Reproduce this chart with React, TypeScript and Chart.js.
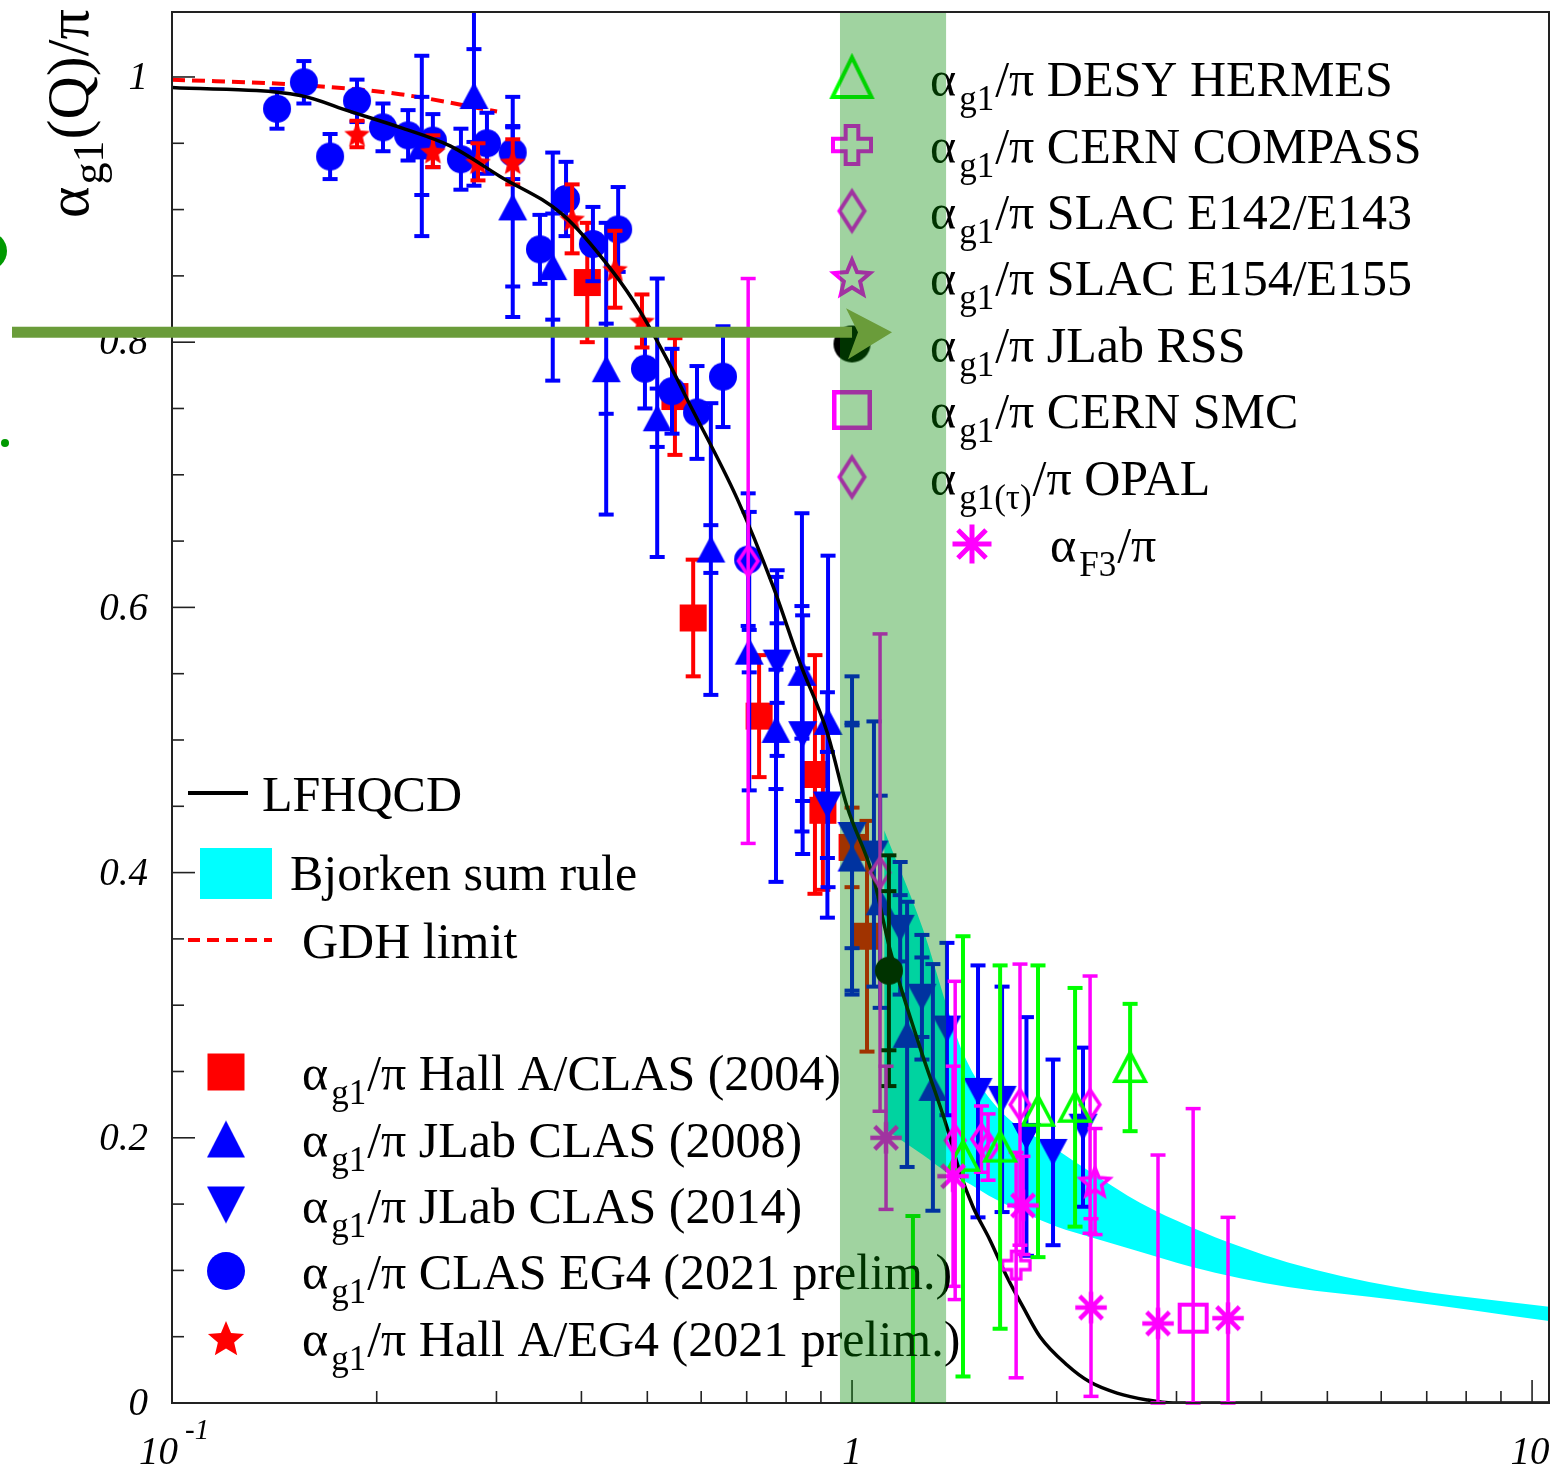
import React, { useEffect, useRef } from 'react';
import { Chart, registerables } from 'chart.js';

Chart.register(...registerables);

const WIDTH = 1561;
const HEIGHT = 1467;
const SERIF = '"Liberation Serif", "DejaVu Serif", serif';

// Axis ranges
const Q_MIN = 0.1;
const Q_MAX = 10.59;
const A_MIN = 0;
const A_MAX = 1.049;

// Axis ticks
const yMajorTicks = [0, 0.2, 0.4, 0.6, 0.8, 1];
const yTickLabels = ['0', '0.2', '0.4', '0.6', '0.8', '1'];
const yMinorStep = 0.05;
const xMajorTicks = [0.1, 1, 10];
const xMinorMultipliers = [2, 3, 4, 5, 6, 7, 8, 9];

// LFHQCD prediction
const lfhqcdQ = [0.1, 0.1543, 0.1827, 0.2164, 0.2564, 0.3037, 0.3758, 0.4451, 0.4881, 0.5345, 0.5721, 0.6777, 0.7652, 0.8386, 0.9189, 0.983, 1.074, 1.137, 1.259, 1.379, 1.441, 1.506, 1.595, 1.69, 1.784, 1.89, 2.071, 2.239, 2.453, 2.716, 2.966, 10.59];
const lfhqcdV = [0.992, 0.986, 0.974, 0.962, 0.948, 0.925, 0.896, 0.853, 0.823, 0.787, 0.757, 0.682, 0.616, 0.558, 0.506, 0.45, 0.397, 0.342, 0.268, 0.208, 0.174, 0.148, 0.123, 0.095, 0.0725, 0.05, 0.0287, 0.0158, 0.0075, 0.0023, 0.0, 0.0];

// GDH limit
const gdhQ = [0.1, 0.1543, 0.2164, 0.3006];
const gdhV = [0.998, 0.994, 0.987, 0.974];

// Bjorken sum rule band
const bjorkenQ = [1.115, 1.272, 1.379, 1.456, 1.634, 2.002, 2.246, 2.651, 3.142, 3.721, 4.377, 6.31, 10.59];
const bjorkenUpper = [0.432, 0.357, 0.299, 0.264, 0.223, 0.191, 0.174, 0.151, 0.133, 0.118, 0.106, 0.0875, 0.0725];
const bjorkenLower = [0.207, 0.187, 0.174, 0.168, 0.153, 0.133, 0.125, 0.114, 0.103, 0.094, 0.0875, 0.0777, 0.0619];

// Hall A / CLAS (2004)
const hallA2004Q = [0.408, 0.549, 0.584, 0.73, 0.882, 0.906, 1.0, 1.052];
const hallA2004V = [0.845, 0.759, 0.592, 0.518, 0.474, 0.447, 0.419, 0.352];
const hallA2004Err = [0.045, 0.044, 0.044, 0.046, 0.09, 0.06, 0.03, 0.087];

// JLab CLAS (2008)
const clas2008Q = [0.233, 0.278, 0.317, 0.363, 0.435, 0.517, 0.62, 0.706, 0.773, 0.844, 0.922, 1.0, 1.1, 1.205, 1.315];
const clas2008V = [0.948, 0.986, 0.902, 0.857, 0.78, 0.743, 0.644, 0.567, 0.508, 0.551, 0.514, 0.411, 0.378, 0.278, 0.238];
const clas2008Err = [0.068, 0.068, 0.083, 0.086, 0.11, 0.105, 0.11, 0.105, 0.115, 0.12, 0.125, 0.1, 0.08, 0.1, 0.093];
const clas2008Stat = [0.037, 0.035, 0.06, 0.04, 0.034, 0.022, 0.018, 0.016, 0.045, 0.05, 0, 0, 0, 0, 0];

// JLab CLAS (2014)
const clas2014Q = [0.776, 0.846, 0.92, 1.0, 1.077, 1.177, 1.267, 1.379, 1.532, 1.662, 1.805, 1.975, 2.186];
const clas2014V = [0.558, 0.504, 0.451, 0.428, 0.414, 0.358, 0.306, 0.282, 0.235, 0.229, 0.201, 0.189, 0.208];
const clas2014Err = [0.07, 0.09, 0.085, 0.12, 0.1, 0.05, 0.047, 0.065, 0.095, 0.085, 0.09, 0.07, 0.06];
const clas2014Stat = [0.03, 0.05, 0.04, 0.085, 0, 0.025, 0.03, 0, 0, 0, 0, 0, 0];

// CLAS EG4 (2021 prelim.)
const eg4Q = [0.1427, 0.1563, 0.1708, 0.1871, 0.2043, 0.2224, 0.2419, 0.266, 0.2905, 0.317, 0.3476, 0.3797, 0.4159, 0.453, 0.496, 0.5436, 0.5916, 0.646, 0.7035];
const eg4V = [0.976, 0.996, 0.94, 0.982, 0.962, 0.956, 0.952, 0.938, 0.95, 0.943, 0.87, 0.908, 0.874, 0.885, 0.78, 0.763, 0.747, 0.774, 0.636];
const eg4Err = [0.015, 0.016, 0.017, 0.016, 0.018, 0.019, 0.02, 0.023, 0.023, 0.02, 0.026, 0.028, 0.028, 0.032, 0.03, 0.032, 0.035, 0.038, 0.05];

// Hall A / EG4 (2021 prelim.)
const hallAEg4Q = [0.1871, 0.2419, 0.2818, 0.317, 0.3876, 0.4481, 0.491];
const hallAEg4V = [0.957, 0.944, 0.936, 0.936, 0.893, 0.855, 0.816];
const hallAEg4Err = [0.01, 0.012, 0.014, 0.017, 0.026, 0.029, 0.02];

// SLAC E142/E143
const slac143Q = [0.7035, 1.0995, 1.418, 1.55, 1.585, 2.239];
const slac143V = [0.635, 0.4, 0.198, 0.199, 0.193, 0.225];
const slac143Err = [0.213, 0.18, 0.12, 0.025, 0.025, 0.097];

// SLAC E154/E155
const slac155Q = [2.277];
const slac155V = [0.167];
const slac155Err = [0.04];

// CERN COMPASS
const compassQ = [1.743];
const compassV = [0.104];
const compassErr = [0.085];

// DESY HERMES
const hermesQ = [1.229, 1.456, 1.651, 1.877, 2.128, 2.564];
const hermesV = [-0.04, 0.186, 0.193, 0.22, 0.223, 0.253];
const hermesErr = [0.181, 0.166, 0.137, 0.11, 0.09, 0.048];

// JLab RSS
const rssQ = [1.133];
const rssV = [0.326];
const rssErr = [0.087];
const rssStat = [0.06];

// CERN SMC
const smcQ = [3.174];
const smcV = [0.064];
const smcErrUp = [0.158];
const smcErrDn = [0.064];

// OPAL (tau decays)
const opalQ = [1.766];
const opalV = [0.225];
const opalErr = [0.106];

// alpha_F3 from GLS sum rule
const f3Q = [1.122, 1.408, 1.784, 2.246, 2.818, 3.572];
const f3V = [0.2, 0.171, 0.149, 0.072, 0.06, 0.064];
const f3ErrUp = [0.054, 0.083, 0.037, 0.067, 0.127, 0.076];
const f3ErrDn = [0.054, 0.083, 0.037, 0.067, 0.06, 0.064];

// Highlight band and arrow
const highlightQ = [0.96, 1.375];
const arrowLevel = 0.8075;
const arrowTipQ = 1.145;

// Legend texts
const rightLegendSubs = ['g1', 'g1', 'g1', 'g1', 'g1', 'g1', 'g1(τ)', 'F3'];
const rightLegendTexts = ['/π DESY HERMES', '/π CERN COMPASS', '/π SLAC E142/E143', '/π SLAC E154/E155', '/π JLab RSS', '/π CERN SMC', '/π OPAL', '/π'];
const leftLegendTexts = ['/π Hall A/CLAS (2004)', '/π JLab CLAS (2008)', '/π JLab CLAS (2014)', '/π CLAS EG4 (2021 prelim.)', '/π Hall A/EG4 (2021 prelim.)'];
const curveLegendTexts = ['LFHQCD', 'Bjorken sum rule', 'GDH limit'];
const yTitleParts = ['α', 'g1', '(Q)/π'];

const BLUE = '#0000ff';
const RED = '#ff0000';
const MAGENTA = '#ff00ff';
const GREEN = '#00ff00';
const BLACK = '#000000';
const CYAN = '#00ffff';

type Kind = 'circle' | 'square' | 'triUp' | 'triDown' | 'star' | 'openStar' | 'openTri' | 'openDiamond' | 'openCross' | 'openSquare' | 'asterisk';

function starPath(g: CanvasRenderingContext2D, cx: number, cy: number, R: number, ratio: number) {
  for (let i = 0; i < 10; i++) {
    const ang = -Math.PI / 2 + (i * Math.PI) / 5;
    const r = i % 2 === 0 ? R : R * ratio;
    const px = cx + r * Math.cos(ang);
    const py = cy + r * Math.sin(ang);
    if (i === 0) g.moveTo(px, py);
    else g.lineTo(px, py);
  }
  g.closePath();
}

function makeMarker(kind: Kind, w: number, h: number, color: string, lw = 3.5): HTMLCanvasElement {
  const pad = Math.ceil(lw) + 2;
  const c = document.createElement('canvas');
  c.width = Math.ceil(w + 2 * pad);
  c.height = Math.ceil(h + 2 * pad);
  const g = c.getContext('2d') as CanvasRenderingContext2D;
  const cx = c.width / 2;
  const cy = c.height / 2;
  const rx = w / 2;
  const ry = h / 2;
  const ix = rx - lw / 2;
  const iy = ry - lw / 2;
  g.fillStyle = color;
  g.strokeStyle = color;
  g.lineWidth = lw;
  g.lineJoin = 'miter';
  g.beginPath();
  switch (kind) {
    case 'circle':
      g.ellipse(cx, cy, rx, ry, 0, 0, Math.PI * 2);
      g.fill();
      break;
    case 'square':
      g.rect(cx - rx, cy - ry, w, h);
      g.fill();
      break;
    case 'openSquare':
      g.rect(cx - ix, cy - iy, 2 * ix, 2 * iy);
      g.stroke();
      break;
    case 'triUp':
      g.moveTo(cx, cy - ry);
      g.lineTo(cx + rx, cy + ry);
      g.lineTo(cx - rx, cy + ry);
      g.closePath();
      g.fill();
      break;
    case 'triDown':
      g.moveTo(cx, cy + ry);
      g.lineTo(cx + rx, cy - ry);
      g.lineTo(cx - rx, cy - ry);
      g.closePath();
      g.fill();
      break;
    case 'openTri':
      g.moveTo(cx, cy - iy - lw * 0.4);
      g.lineTo(cx + ix, cy + iy);
      g.lineTo(cx - ix, cy + iy);
      g.closePath();
      g.stroke();
      break;
    case 'openDiamond':
      g.moveTo(cx, cy - iy);
      g.lineTo(cx + ix, cy);
      g.lineTo(cx, cy + iy);
      g.lineTo(cx - ix, cy);
      g.closePath();
      g.stroke();
      break;
    case 'star':
      starPath(g, cx, cy + ry * 0.1, ry, 0.45);
      g.fill();
      break;
    case 'openStar':
      starPath(g, cx, cy + iy * 0.1, iy, 0.45);
      g.stroke();
      break;
    case 'openCross': {
      const t = ix / 3;
      g.moveTo(cx - t, cy - iy);
      g.lineTo(cx + t, cy - iy);
      g.lineTo(cx + t, cy - t);
      g.lineTo(cx + ix, cy - t);
      g.lineTo(cx + ix, cy + t);
      g.lineTo(cx + t, cy + t);
      g.lineTo(cx + t, cy + iy);
      g.lineTo(cx - t, cy + iy);
      g.lineTo(cx - t, cy + t);
      g.lineTo(cx - ix, cy + t);
      g.lineTo(cx - ix, cy - t);
      g.lineTo(cx - t, cy - t);
      g.closePath();
      g.stroke();
      break;
    }
    case 'asterisk': {
      const d = ix * 0.72;
      g.moveTo(cx, cy - iy);
      g.lineTo(cx, cy + iy);
      g.moveTo(cx - ix, cy);
      g.lineTo(cx + ix, cy);
      g.moveTo(cx - d, cy - d);
      g.lineTo(cx + d, cy + d);
      g.moveTo(cx + d, cy - d);
      g.lineTo(cx - d, cy + d);
      g.stroke();
      break;
    }
  }
  return c;
}

function pts(q: number[], v: number[]) {
  return q.map((x, i) => ({ x, y: v[i] }));
}

interface SeriesDef {
  q: number[];
  v: number[];
  up: number[];
  dn: number[];
  stat?: number[];
  kind: Kind;
  w: number;
  h: number;
  color: string;
  lw?: number;
  barColor: string;
  barWidth: number;
}

function drawAlphaLabel(ctx: CanvasRenderingContext2D, x: number, base: number, sub: string, rest: string, main = 50, subSize = 35) {
  ctx.textAlign = 'left';
  ctx.textBaseline = 'alphabetic';
  ctx.font = `${main}px ${SERIF}`;
  ctx.fillText('α', x, base);
  let cx = x + ctx.measureText('α').width + 3;
  ctx.font = `${subSize}px ${SERIF}`;
  ctx.fillText(sub, cx, base + 14);
  cx += ctx.measureText(sub).width + 1;
  ctx.font = `${main}px ${SERIF}`;
  ctx.fillText(rest, cx, base);
}

export default function App() {
  const ref = useRef<HTMLCanvasElement>(null);

  useEffect(() => {
    const canvas = ref.current;
    if (!canvas) return;

    const series: SeriesDef[] = [
      { q: hallA2004Q, v: hallA2004V, up: hallA2004Err, dn: hallA2004Err, kind: 'square', w: 27, h: 27, color: RED, barColor: RED, barWidth: 4 },
      { q: clas2008Q, v: clas2008V, up: clas2008Err, dn: clas2008Err, stat: clas2008Stat, kind: 'triUp', w: 29, h: 27, color: BLUE, barColor: BLUE, barWidth: 4 },
      { q: clas2014Q, v: clas2014V, up: clas2014Err, dn: clas2014Err, stat: clas2014Stat, kind: 'triDown', w: 29, h: 27, color: BLUE, barColor: BLUE, barWidth: 4 },
      { q: eg4Q, v: eg4V, up: eg4Err, dn: eg4Err, kind: 'circle', w: 28, h: 28, color: BLUE, barColor: BLUE, barWidth: 4 },
      { q: hallAEg4Q, v: hallAEg4V, up: hallAEg4Err, dn: hallAEg4Err, kind: 'star', w: 27, h: 27, color: RED, barColor: RED, barWidth: 4 },
    ];
    const overSeries: SeriesDef[] = [
      { q: slac143Q, v: slac143V, up: slac143Err, dn: slac143Err, kind: 'openDiamond', w: 23, h: 33, color: MAGENTA, lw: 3.5, barColor: MAGENTA, barWidth: 3.5 },
      { q: slac155Q, v: slac155V, up: slac155Err, dn: slac155Err, kind: 'openStar', w: 34, h: 34, color: MAGENTA, lw: 3.5, barColor: MAGENTA, barWidth: 3.5 },
      { q: compassQ, v: compassV, up: compassErr, dn: compassErr, kind: 'openCross', w: 31, h: 31, color: MAGENTA, lw: 3.5, barColor: MAGENTA, barWidth: 3.5 },
      { q: hermesQ, v: hermesV, up: hermesErr, dn: hermesErr, kind: 'openTri', w: 34, h: 31, color: GREEN, lw: 3.5, barColor: GREEN, barWidth: 4 },
      { q: rssQ, v: rssV, up: rssErr, dn: rssErr, stat: rssStat, kind: 'circle', w: 28, h: 28, color: BLACK, barColor: BLACK, barWidth: 4 },
      { q: smcQ, v: smcV, up: smcErrUp, dn: smcErrDn, kind: 'openSquare', w: 31, h: 31, color: MAGENTA, lw: 4, barColor: MAGENTA, barWidth: 3.5 },
      { q: opalQ, v: opalV, up: opalErr, dn: opalErr, kind: 'openDiamond', w: 23, h: 33, color: MAGENTA, lw: 3.5, barColor: MAGENTA, barWidth: 3.5 },
      { q: f3Q, v: f3V, up: f3ErrUp, dn: f3ErrDn, kind: 'asterisk', w: 36, h: 36, color: MAGENTA, lw: 4.5, barColor: MAGENTA, barWidth: 3.5 },
    ];

    const seriesDataset = (s: SeriesDef) => ({
      data: pts(s.q, s.v),
      showLine: false,
      pointStyle: makeMarker(s.kind, s.w, s.h, s.color, s.lw ?? 3.5),
      pointRadius: 10,
      pointHoverRadius: 10,
      borderColor: s.color,
      backgroundColor: s.color,
      errUp: s.up,
      errDn: s.dn,
      errStat: s.stat,
      barColor: s.barColor,
      barWidth: s.barWidth,
    });

    // listed bottom to top
    const datasets: any[] = [
      {
        data: pts(bjorkenQ, bjorkenUpper),
        borderWidth: 0,
        borderColor: 'rgba(0,0,0,0)',
        backgroundColor: CYAN,
        pointRadius: 0,
        fill: '+1',
        cubicInterpolationMode: 'monotone',
      },
      {
        data: pts(bjorkenQ, bjorkenLower),
        borderWidth: 0,
        borderColor: 'rgba(0,0,0,0)',
        pointRadius: 0,
        fill: false,
        cubicInterpolationMode: 'monotone',
      },
      {
        data: pts(gdhQ, gdhV),
        borderColor: RED,
        borderWidth: 4,
        borderDash: [13, 7],
        pointRadius: 0,
        fill: false,
        cubicInterpolationMode: 'monotone',
      },
      ...series.map(seriesDataset),
      {
        data: pts(lfhqcdQ, lfhqcdV),
        borderColor: BLACK,
        borderWidth: 3.5,
        pointRadius: 0,
        fill: false,
        cubicInterpolationMode: 'monotone',
      },
      ...overSeries.map(seriesDataset),
    ];
    const n = datasets.length;
    datasets.forEach((d, i) => {
      d.order = n - i;
    });

    const leftMarkers = [
      makeMarker('square', 37, 37, RED),
      makeMarker('triUp', 38, 37, BLUE),
      makeMarker('triDown', 38, 37, BLUE),
      makeMarker('circle', 38, 38, BLUE),
      makeMarker('star', 38, 38, RED),
    ];
    const rightMarkers = [
      makeMarker('openTri', 43, 42, GREEN, 4),
      makeMarker('openCross', 42, 42, MAGENTA, 4),
      makeMarker('openDiamond', 29, 43, MAGENTA, 4),
      makeMarker('openStar', 42, 42, MAGENTA, 4),
      makeMarker('circle', 37, 37, BLACK),
      makeMarker('openSquare', 40, 40, MAGENTA, 4.5),
      makeMarker('openDiamond', 29, 43, MAGENTA, 4),
      makeMarker('asterisk', 44, 44, MAGENTA, 5),
    ];

    const decorations = {
      id: 'decorations',
      beforeDatasetDraw(chart: any, args: any) {
        const ds = chart.data.datasets[args.index];
        if (!ds.errUp) return;
        const ctx: CanvasRenderingContext2D = chart.ctx;
        const a = chart.chartArea;
        const xs = chart.scales.x;
        const ys = chart.scales.y;
        const capHalf = 7.5;
        ctx.save();
        ctx.strokeStyle = ds.barColor;
        ctx.lineWidth = ds.barWidth;
        ctx.lineCap = 'butt';
        const cap = (px: number, py: number) => {
          ctx.beginPath();
          ctx.moveTo(px - capHalf, py);
          ctx.lineTo(px + capHalf, py);
          ctx.stroke();
        };
        ds.data.forEach((p: any, i: number) => {
          const px = xs.getPixelForValue(p.x);
          const rawTop = ys.getPixelForValue(p.y + ds.errUp[i]);
          const rawBot = ys.getPixelForValue(p.y - ds.errDn[i]);
          const yTop = Math.max(a.top, rawTop);
          const yBot = Math.min(a.bottom, rawBot);
          if (yTop >= yBot) return;
          ctx.beginPath();
          ctx.moveTo(px, yTop);
          ctx.lineTo(px, yBot);
          ctx.stroke();
          if (rawTop >= a.top - 2) cap(px, yTop);
          if (rawBot <= a.bottom + 2) cap(px, yBot);
          if (ds.errStat && ds.errStat[i]) {
            const s1 = ys.getPixelForValue(p.y + ds.errStat[i]);
            const s2 = ys.getPixelForValue(p.y - ds.errStat[i]);
            if (s1 >= a.top && s1 <= a.bottom) cap(px, s1);
            if (s2 >= a.top && s2 <= a.bottom) cap(px, s2);
          }
        });
        ctx.restore();
      },
      afterDatasetsDraw(chart: any) {
        const ctx: CanvasRenderingContext2D = chart.ctx;
        const a = chart.chartArea;
        const xs = chart.scales.x;
        const ys = chart.scales.y;
        ctx.save();

        // frame
        ctx.strokeStyle = '#222';
        ctx.lineWidth = 2;
        ctx.strokeRect(a.left, a.top, a.right - a.left, a.bottom - a.top);

        // y ticks
        ctx.lineWidth = 1.6;
        for (let k = 0; k * yMinorStep <= A_MAX + 1e-9; k++) {
          const v = k * yMinorStep;
          const y = ys.getPixelForValue(v);
          const major = yMajorTicks.some((m) => Math.abs(m - v) < 1e-6);
          ctx.beginPath();
          ctx.moveTo(a.left, y);
          ctx.lineTo(a.left + (major ? 23 : 12), y);
          ctx.stroke();
        }
        // x ticks
        xMajorTicks.forEach((m, idx) => {
          const x = xs.getPixelForValue(m);
          ctx.beginPath();
          ctx.moveTo(x, a.bottom);
          ctx.lineTo(x, a.bottom - 23);
          ctx.stroke();
          if (idx < xMajorTicks.length - 1) {
            xMinorMultipliers.forEach((k) => {
              const xm = xs.getPixelForValue(m * k);
              ctx.beginPath();
              ctx.moveTo(xm, a.bottom);
              ctx.lineTo(xm, a.bottom - 12);
              ctx.stroke();
            });
          }
        });

        // tick labels
        ctx.fillStyle = BLACK;
        ctx.font = `italic 39px ${SERIF}`;
        ctx.textAlign = 'right';
        ctx.textBaseline = 'middle';
        yMajorTicks.forEach((v, i) => {
          ctx.fillText(yTickLabels[i], a.left - 24, ys.getPixelForValue(v) + 2);
        });
        ctx.textBaseline = 'alphabetic';
        {
          const x0 = xs.getPixelForValue(xMajorTicks[0]);
          ctx.textAlign = 'left';
          ctx.font = `italic 39px ${SERIF}`;
          ctx.fillText('10', x0 - 33, a.bottom + 61);
          ctx.font = `italic 29px ${SERIF}`;
          ctx.fillText('-1', x0 + 13, a.bottom + 36);
          ctx.textAlign = 'center';
          ctx.font = `italic 39px ${SERIF}`;
          ctx.fillText('1', xs.getPixelForValue(xMajorTicks[1]), a.bottom + 61);
          ctx.fillText('10', xs.getPixelForValue(xMajorTicks[2]) - 2, a.bottom + 61);
        }

        // y axis title
        ctx.save();
        ctx.translate(88, 218);
        ctx.rotate(-Math.PI / 2);
        ctx.textAlign = 'left';
        ctx.font = `60px ${SERIF}`;
        ctx.fillText(yTitleParts[0], 0, 0);
        let tx = ctx.measureText(yTitleParts[0]).width + 2;
        ctx.font = `44px ${SERIF}`;
        ctx.fillText(yTitleParts[1], tx, 15);
        tx += ctx.measureText(yTitleParts[1]).width + 1;
        ctx.font = `60px ${SERIF}`;
        ctx.fillText(yTitleParts[2], tx, 0);
        ctx.restore();

        // left legend: curves
        ctx.strokeStyle = BLACK;
        ctx.lineWidth = 4;
        ctx.beginPath();
        ctx.moveTo(188, 793);
        ctx.lineTo(248, 793);
        ctx.stroke();
        ctx.fillStyle = CYAN;
        ctx.fillRect(200, 848, 72, 51);
        ctx.strokeStyle = RED;
        ctx.setLineDash([12, 7]);
        ctx.beginPath();
        ctx.moveTo(188, 940);
        ctx.lineTo(272, 940);
        ctx.stroke();
        ctx.setLineDash([]);
        ctx.fillStyle = BLACK;
        ctx.textAlign = 'left';
        ctx.font = `50px ${SERIF}`;
        ctx.fillText(curveLegendTexts[0], 262, 811);
        ctx.fillText(curveLegendTexts[1], 290, 890);
        ctx.fillText(curveLegendTexts[2], 302, 958);

        // left legend: data sets
        const leftRows = [1072, 1139, 1205, 1271, 1338];
        leftRows.forEach((y, i) => {
          const m = leftMarkers[i];
          ctx.drawImage(m, 226 - m.width / 2, y - m.height / 2);
          ctx.fillStyle = BLACK;
          drawAlphaLabel(ctx, 302, y + 18, 'g1', leftLegendTexts[i]);
        });

        // right legend
        const rightRows = [78, 145, 211, 277, 344, 410, 477, 544];
        rightRows.forEach((y, i) => {
          const m = rightMarkers[i];
          const mx = i === 7 ? 972 : 852;
          ctx.drawImage(m, mx - m.width / 2, y - m.height / 2);
          ctx.fillStyle = BLACK;
          drawAlphaLabel(ctx, i === 7 ? 1050 : 930, y + 18, rightLegendSubs[i], rightLegendTexts[i]);
        });

        // translucent highlight band
        const bx0 = xs.getPixelForValue(highlightQ[0]);
        const bx1 = xs.getPixelForValue(highlightQ[1]);
        ctx.fillStyle = 'rgba(0,136,0,0.373)';
        ctx.fillRect(bx0, a.top + 1, bx1 - bx0, a.bottom - a.top - 1);

        // arrow
        const ay = ys.getPixelForValue(arrowLevel);
        const tipX = xs.getPixelForValue(arrowTipQ);
        ctx.fillStyle = '#6a9c3a';
        ctx.fillRect(12, ay - 5.5, tipX - 40 - 12, 11);
        ctx.beginPath();
        ctx.moveTo(tipX, ay);
        ctx.lineTo(tipX - 46, ay - 24);
        ctx.lineTo(tipX - 34, ay);
        ctx.lineTo(tipX - 44, ay + 27);
        ctx.closePath();
        ctx.fill();

        // marks at the left margin
        ctx.fillStyle = '#009900';
        ctx.beginPath();
        ctx.arc(-12, 251, 19, 0, Math.PI * 2);
        ctx.fill();
        ctx.beginPath();
        ctx.arc(5, 443, 4, 0, Math.PI * 2);
        ctx.fill();

        ctx.restore();
      },
    };

    const chart = new Chart(canvas, {
      type: 'line',
      data: { datasets },
      options: {
        responsive: false,
        animation: false,
        devicePixelRatio: 1,
        events: [],
        layout: { padding: { left: 172, top: 12, right: 12, bottom: 64 } },
        plugins: { legend: { display: false }, tooltip: { enabled: false } },
        scales: {
          x: { type: 'logarithmic', min: Q_MIN, max: Q_MAX, display: false },
          y: { type: 'linear', min: A_MIN, max: A_MAX, display: false },
        },
      } as any,
      plugins: [decorations],
    });

    return () => chart.destroy();
  }, []);

  return (
    <div style={{ position: 'absolute', left: 0, top: 0, width: WIDTH, height: HEIGHT, background: '#ffffff' }}>
      <canvas ref={ref} width={WIDTH} height={HEIGHT} style={{ display: 'block', width: WIDTH, height: HEIGHT }} />
    </div>
  );
}
